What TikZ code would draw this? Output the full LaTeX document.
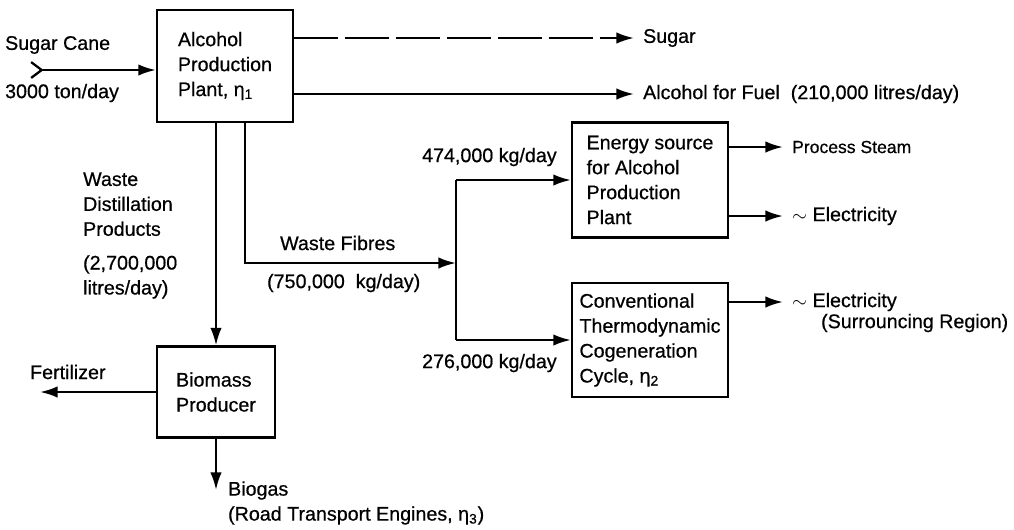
\documentclass[tikz,border=0pt]{standalone}
\usepackage{fontspec}
\setmainfont[FakeBold=0.6]{Liberation Sans}
\usetikzlibrary{arrows.meta,calc}

\begin{document}
\begin{tikzpicture}[x=0.02cm,y=-0.02cm,
    font=\fontsize{11.2}{14.2}\selectfont,
    flow/.style={line width=1.3pt,-{Latex[length=10pt,width=6.5pt]}},
    unit/.style={draw,line width=1.3pt,align=left,inner sep=0pt},
    lbl/.style={anchor=west,inner xsep=5pt,inner ysep=0pt,align=left}]
  \useasboundingbox (0,0) rectangle (1014,529);
  % process units
  \node[unit,minimum width=2.72cm,minimum height=2.24cm] (plant) at (225,66) {Alcohol\\Production\\Plant, η\textsubscript{1}};
  \node[unit,minimum width=2.36cm,minimum height=1.82cm] (biomass) at (216,392) {Biomass\\Producer};
  \node[unit,minimum width=3.12cm,minimum height=2.3cm] (energy) at (650,180) {Energy source\\for Alcohol\\Production\\Plant};
  \node[unit,minimum width=3.12cm,minimum height=2.28cm] (conv) at (650,340) {Conventional\\Thermodynamic\\Cogeneration\\Cycle, η\textsubscript{2}};
  % input
  \node[lbl] (cane) at (-4,45) {Sugar Cane};
  \node[lbl] (tons) at (-4,93) {3000 ton/day};
  \coordinate (feed) at (30,70);
  \draw[line width=1.3pt,{Straight Barb[reversed,length=6pt,width=9pt]}-{Latex[length=10pt,width=6.5pt]}] (feed) -- (feed -| plant.west);
  % products of the plant
  \node[lbl] (sugar) at (634,38) {Sugar};
  \node[lbl] (fuel) at (634,94) {Alcohol for Fuel\ \ (210,000 litres/day)};
  \draw[flow,dash pattern=on 25pt off 4pt] (plant.east |- sugar.west) -- (sugar.west);
  \draw[flow] (plant.east |- fuel.west) -- (fuel.west);
  % waste distillation products
  \node[lbl,anchor=north west] (distil) at (74,172) {Waste\\Distillation\\Products\\[5pt](2,700,000\\litres/day)};
  \draw[flow] (biomass.north |- plant.south) -- (biomass.north);
  % waste fibres
  \coordinate (fibre) at (245,263);
  \coordinate (split) at (456,263);
  \node[lbl] (fibrelbl) at (271,243) {Waste Fibres};
  \node[lbl] (fibreamt) at (258,283) {(750,000\ \ kg/day)};
  \draw[flow] (fibre |- plant.south) -- (fibre) -- (split);
  \draw[line width=1.3pt] (split |- energy.west) -- (split |- conv.west);
  \draw[flow] (split |- energy.west) -- (energy.west);
  \draw[flow] (split |- conv.west) -- (conv.west);
  \node[lbl] (upamt) at (413,157) {474,000 kg/day};
  \node[lbl] (lowamt) at (413,363) {276,000 kg/day};
  % outputs of the energy units
  \node[lbl,font=\fontsize{10}{12}\selectfont] (steam) at (783,147) {Process Steam};
  \node[lbl] (elec1) at (783,216) {$\sim$ Electricity};
  \node[lbl] (elec2) at (783,302) {$\sim$ Electricity};
  \node[lbl] (region) at (812,323) {(Surrouncing Region)};
  \draw[flow] (energy.east |- steam.west) -- (steam.west);
  \draw[flow] (energy.east |- elec1.west) -- (elec1.west);
  \draw[flow] (conv.east |- elec2.west) -- (elec2.west);
  % outputs of the biomass producer
  \coordinate (fert) at (40,392);
  \coordinate (gas) at (216,490);
  \node[lbl] (fertlbl) at (21,372) {Fertilizer};
  \node[lbl,anchor=north west] (biogas) at (219,481) {Biogas\\(Road Transport Engines, η\textsubscript{3})};
  \draw[flow] (biomass.west) -- (fert);
  \draw[flow] (biomass.south) -- (gas);
\end{tikzpicture}
\end{document}
